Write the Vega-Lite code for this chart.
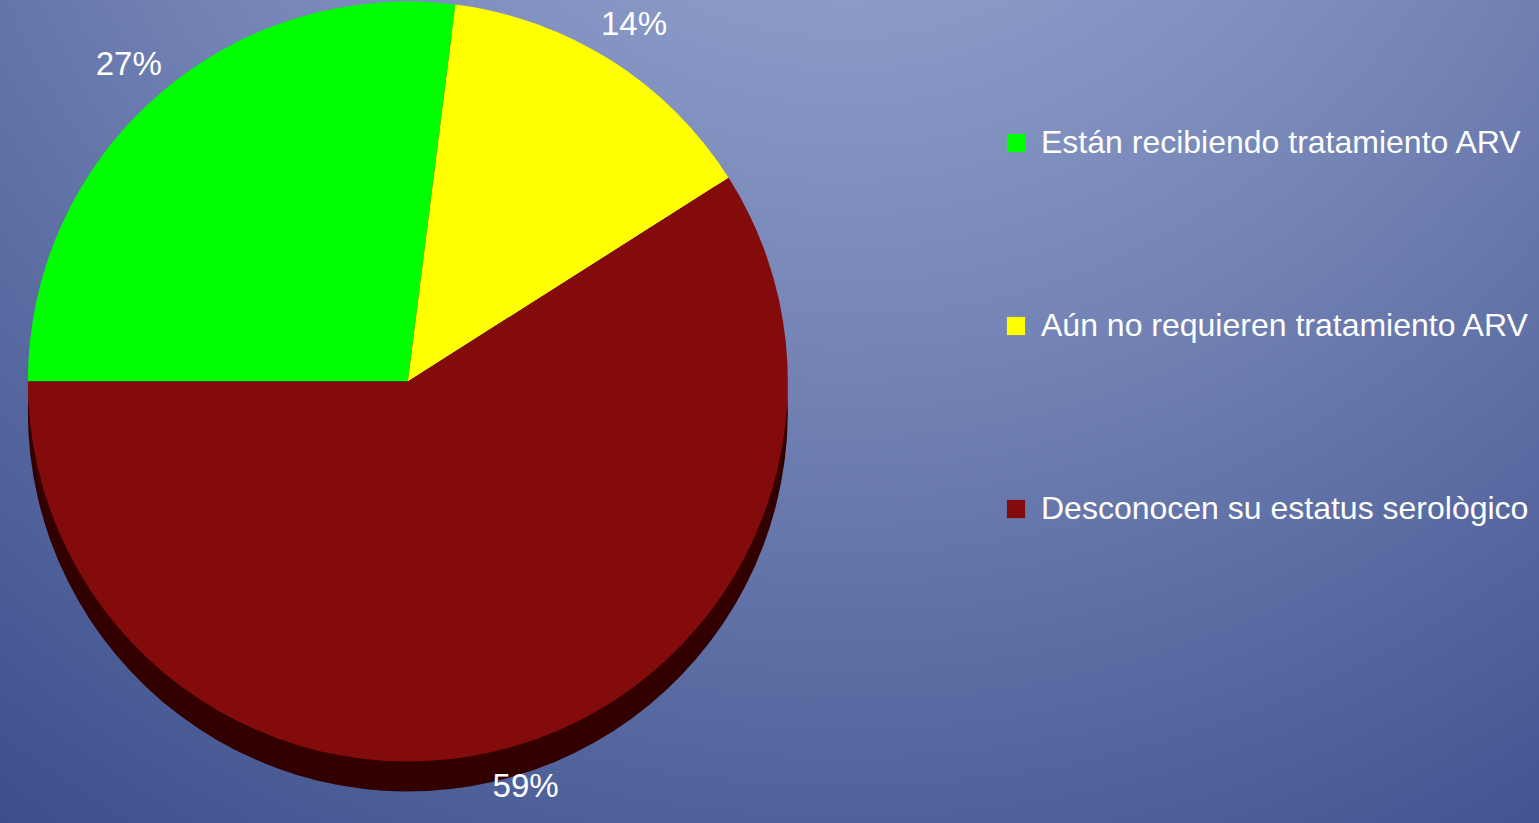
{
  "$schema": "https://vega.github.io/schema/vega-lite/v6.json",
  "width": 1539,
  "height": 823,
  "autosize": {"type": "fit", "contains": "padding"},
  "padding": 0,
  "background": "#4a5c96",
  "view": {"stroke": null},
  "data": {"values": [
    {"categoria": "Están recibiendo tratamiento ARV", "porcentaje": 27, "orden": 1, "etiqueta": "27%"},
    {"categoria": "Aún no requieren tratamiento ARV", "porcentaje": 14, "orden": 2, "etiqueta": "14%"},
    {"categoria": "Desconocen su estatus serològico", "porcentaje": 59, "orden": 3, "etiqueta": "59%"}
  ]},
  "layer": [
    {
      "mark": {"type": "rect", "fill": {"gradient": "radial", "x1": 0.55, "y1": 0, "r1": 0, "x2": 0.55, "y2": 0, "r2": 1.05,
        "stops": [{"offset": 0, "color": "#a2b1d9"}, {"offset": 0.45, "color": "#7383b5"}, {"offset": 1, "color": "#2f4282"}]}},
      "encoding": {}
    },
    {
      "mark": {"type": "arc", "radius": 380, "x": {"expr": "width*0.265"}, "y": {"expr": "height*0.4635 + 30"}, "fill": "#330000"},
      "encoding": {
        "theta": {"field": "porcentaje", "type": "quantitative", "stack": true, "scale": {"range": [4.712389, 10.995574]}},
        "order": {"field": "orden"}
      }
    },
    {
      "mark": {"type": "arc", "radius": 380, "x": {"expr": "width*0.265"}, "y": {"expr": "height*0.4635"}},
      "encoding": {
        "theta": {"field": "porcentaje", "type": "quantitative", "stack": true},
        "order": {"field": "orden"},
        "color": {
          "field": "categoria", "type": "nominal",
          "sort": ["Están recibiendo tratamiento ARV", "Aún no requieren tratamiento ARV", "Desconocen su estatus serològico"],
          "scale": {"domain": ["Están recibiendo tratamiento ARV", "Aún no requieren tratamiento ARV", "Desconocen su estatus serològico"], "range": ["#00ff00", "#ffff00", "#830b0b"]},
          "legend": {
            "title": null, "orient": "none", "legendX": 1000, "legendY": 127,
            "symbolType": "square", "symbolSize": 330, "symbolStrokeWidth": 0,
            "labelFont": "Liberation Sans", "labelFontSize": 32, "labelColor": "white", "labelLimit": 600,
            "labelOffset": 9, "rowPadding": 151
          }
        }
      }
    },
    {
      "mark": {"type": "text", "radius": 422, "x": {"expr": "width*0.265"}, "y": {"expr": "height*0.4635"}, "font": "Liberation Sans", "fontSize": 33, "color": "white"},
      "encoding": {
        "theta": {"field": "porcentaje", "type": "quantitative", "stack": true},
        "order": {"field": "orden"},
        "text": {"field": "etiqueta"}
      }
    }
  ]
}
